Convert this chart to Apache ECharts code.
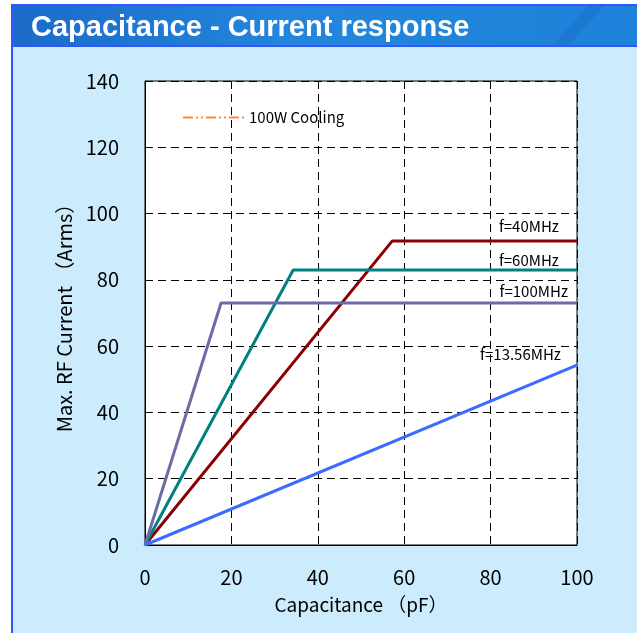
<!DOCTYPE html>
<html>
<head>
<meta charset="utf-8">
<script src="https://cdn.jsdelivr.net/npm/echarts@6/dist/echarts.min.js"></script>
<style>
html,body{margin:0;padding:0;background:#fff;}
#chart{width:637px;height:633px;}
</style>
</head>
<body>
<div id="chart"></div>
<script>
// Data (x: capacitance pF, y: max RF current Arms)
const xTicks = [0, 20, 40, 60, 80, 100];
const yTicks = [0, 20, 40, 60, 80, 100, 120, 140];
const s40MHz   = [[0, 0], [57.2, 91.7], [100, 91.7]];
const s60MHz   = [[0, 0], [34.3, 83.0], [100, 83.0]];
const s100MHz  = [[0, 0], [17.6, 73.0], [100, 73.0]];
const s1356MHz = [[0, 0], [100, 54.3]];
const cooling100W = [];
const seriesNames = ['f=40MHz', 'f=60MHz', 'f=100MHz', 'f=13.56MHz', '100W Cooling'];

const chart = echarts.init(document.getElementById('chart'));
const FONT = '"Noto Sans CJK JP", "Liberation Sans", sans-serif';

function lineSeries(name, data, color, off) {
  return {
    name: name, type: 'line', data: data,
    showSymbol: false, symbol: 'none',
    lineStyle: { color: color, width: 3 },
    itemStyle: { color: color },
    z: 3,
    endLabel: {
      show: true, formatter: name, color: '#000', fontSize: 15, fontFamily: FONT,
      align: 'right', verticalAlign: 'middle', distance: 0, offset: off
    }
  };
}

chart.setOption({
  backgroundColor: '#ffffff',
  animation: false,
  graphic: [
    { type: 'rect', shape: { x: 12, y: 5, width: 625, height: 628 }, style: { fill: '#CCEBFC' }, z: -10 },
    { type: 'rect', shape: { x: 12, y: 5, width: 625, height: 42 },
      style: { fill: new echarts.graphic.LinearGradient(0, 0, 1, 0, [
        { offset: 0, color: '#1B6BC9' }, { offset: 0.45, color: '#2386DC' }, { offset: 1, color: '#1F82DA' }]) }, z: -9 },
    { type: 'polygon', shape: { points: [[552, 46], [588, 6], [604, 6], [568, 46]] }, style: { fill: '#1A64BE', opacity: 0.35 }, z: -9 },
    { type: 'rect', shape: { x: 12, y: 4, width: 625, height: 2 }, style: { fill: '#3355FF' }, z: -8 },
    { type: 'rect', shape: { x: 12, y: 45, width: 625, height: 2 }, style: { fill: '#3355FF' }, z: -8 },
    { type: 'rect', shape: { x: 11, y: 4, width: 2, height: 629 }, style: { fill: '#3355FF' }, z: -8 }
  ],
  title: {
    text: 'Capacitance - Current response',
    left: 26, top: 8,
    textStyle: { color: '#fff', fontSize: 29, fontWeight: 'bold', fontFamily: '"Liberation Sans", Arial, sans-serif' }
  },
  legend: {
    data: ['100W Cooling'],
    left: 177, top: 105,
    itemWidth: 61, itemHeight: 10, itemGap: 6,
    itemStyle: { opacity: 0 },
    textStyle: { color: '#000', fontSize: 15, fontFamily: FONT }
  },
  grid: { left: 145, top: 81, width: 432, height: 464, show: true, backgroundColor: '#fff', borderColor: '#000', borderWidth: 1 },
  xAxis: {
    type: 'value', min: 0, max: 100, interval: 20,
    name: 'Capacitance （pF）', nameLocation: 'middle', nameGap: 50,
    nameTextStyle: { color: '#000', fontSize: 19, fontFamily: FONT },
    axisLine: { show: true, lineStyle: { color: '#000', width: 1 } },
    axisTick: { show: false },
    axisLabel: { color: '#000', fontSize: 20, margin: 22, fontFamily: FONT },
    splitLine: { show: true, lineStyle: { color: '#000', type: [8, 5], width: 1 } }
  },
  yAxis: {
    type: 'value', min: 0, max: 140, interval: 20,
    name: 'Max. RF Current （Arms）', nameLocation: 'middle', nameGap: 70, nameRotate: 90,
    nameTextStyle: { color: '#000', fontSize: 20, fontFamily: FONT },
    axisLine: { show: true, lineStyle: { color: '#000', width: 1 } },
    axisTick: { show: false },
    axisLabel: { color: '#000', fontSize: 20, margin: 26, fontFamily: FONT },
    splitLine: { show: true, lineStyle: { color: '#000', type: [8, 5], width: 1 } }
  },
  series: [
    lineSeries(seriesNames[0], s40MHz, '#8B0000', [-18, -15]),
    lineSeries(seriesNames[1], s60MHz, '#008080', [-18, -10]),
    lineSeries(seriesNames[2], s100MHz, '#6B6BA6', [-9, -12]),
    lineSeries(seriesNames[3], s1356MHz, '#3B6BFF', [-16, -11]),
    {
      name: seriesNames[4], type: 'line', data: cooling100W, symbol: 'none',
      lineStyle: { color: '#FF8A3D', width: 2, type: [10, 3, 2, 3, 2, 3] },
      itemStyle: { color: '#FF8A3D' }
    }
  ]
});
</script>
</body>
</html>
